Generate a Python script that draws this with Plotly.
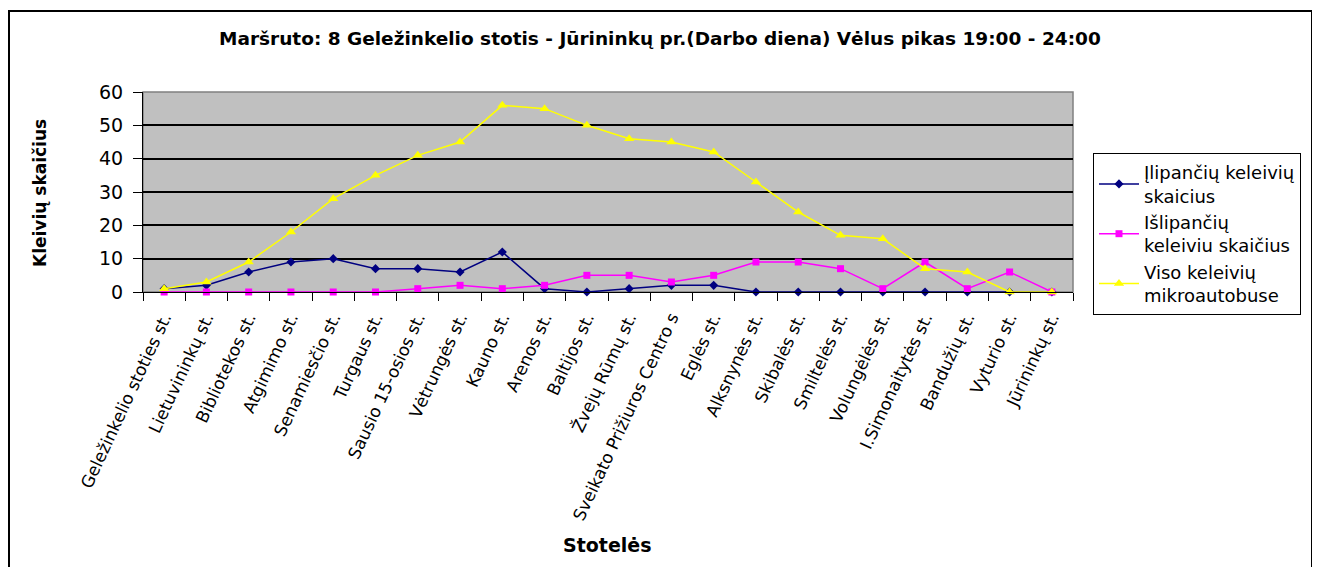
import plotly.graph_objects as go

# Stotelės (stops) along route 8
stops = [
    "Geležinkelio stoties st.", "Lietuvininkų st.", "Bibliotekos st.", "Atgimimo st.",
    "Senamiesčio st.", "Turgaus st.", "Sausio 15-osios st.", "Vėtrungės st.",
    "Kauno st.", "Arenos st.", "Baltijos st.", "Žvejų Rūmų st.",
    "Sveikato Prižiuros Centro s", "Eglės st.", "Alksnynės st.", "Skibalės st.",
    "Smiltelės st.", "Volungėlės st.", "I.Simonaitytės st.", "Bandužių st.",
    "Vyturio st.", "Jūrininkų st.",
]

boarding = [1, 2, 6, 9, 10, 7, 7, 6, 12, 1, 0, 1, 2, 2, 0, 0, 0, 0, 0, 0, 0, 0]
alighting = [0, 0, 0, 0, 0, 0, 1, 2, 1, 2, 5, 5, 3, 5, 9, 9, 7, 1, 9, 1, 6, 0]
on_board = [1, 3, 9, 18, 28, 35, 41, 45, 56, 55, 50, 46, 45, 42, 33, 24, 17, 16, 7, 6, 0, 0]

FONT = "DejaVu Sans, Arial, sans-serif"

# page has an 8px body margin, so figure coords = screen coords - 8
OFF = 8
W, H = 1320, 567
L, T = 143 - OFF, 92 - OFF
R, B = W - (1073 - OFF), H - (292 - OFF)
pw, ph = W - L - R, H - T - B


def px(x):
    # screen x -> paper
    return (x - OFF - L) / pw


def py(y):
    # screen y -> paper
    return (H - B - (y - OFF)) / ph


fig = go.Figure()

fig.add_trace(go.Scatter(
    x=stops, y=boarding, name="Įlipančių keleivių<br>skaicius",
    mode="lines+markers", legendgroup="a",
    line=dict(color="#000080", width=1.5),
    marker=dict(symbol="diamond", size=7, color="#000080"),
    cliponaxis=False,
))
fig.add_trace(go.Scatter(
    x=stops, y=alighting, name="Išlipančių<br>keleiviu skaičius",
    mode="lines+markers", legendgroup="b",
    line=dict(color="#FF00FF", width=1.5),
    marker=dict(symbol="square", size=7, color="#FF00FF"),
    cliponaxis=False,
))
fig.add_trace(go.Scatter(
    x=stops, y=on_board, name="Viso keleivių<br>mikroautobuse",
    mode="lines+markers", legendgroup="c",
    line=dict(color="#FFFF00", width=1.5),
    marker=dict(symbol="triangle-up", size=9, color="#FFFF00"),
    cliponaxis=False,
))

fig.update_layout(
    width=W, height=H,
    margin=dict(l=L, r=R, t=T, b=B),
    paper_bgcolor="white",
    plot_bgcolor="#C0C0C0",
    font=dict(family=FONT, color="black"),
    showlegend=True,
    legend=dict(
        x=px(1093), y=py(153), xanchor="left", yanchor="top",
        bordercolor="black", borderwidth=1, bgcolor="white",
        font=dict(size=18, family=FONT),
        traceorder="grouped", tracegroupgap=0,
        itemwidth=40,
    ),
    xaxis=dict(
        type="category", range=[-0.5, len(stops) - 0.5],
        tickangle=-65, tickfont=dict(size=17),
        ticks="outside", tickson="boundaries", ticklen=8, tickcolor="black",
        ticklabelstandoff=8,
        showline=True, linecolor="black", linewidth=1,
        showgrid=False,
    ),
    yaxis=dict(
        range=[0, 60], dtick=10, tickfont=dict(size=19),
        ticks="outside", ticklen=9, tickcolor="black",
        ticklabelstandoff=6,
        showline=True, linecolor="black", linewidth=1,
        showgrid=True, gridcolor="black", gridwidth=1.5,
        zeroline=False,
    ),
    annotations=[
        dict(text="<b>Maršruto: 8 Geležinkelio stotis - Jūrininkų pr.(Darbo diena) Vėlus pikas 19:00 - 24:00</b>",
             x=px(660), y=py(38), xref="paper", yref="paper", showarrow=False,
             xanchor="center", yanchor="middle", font=dict(size=18.5)),
        dict(text="<b>Kleivių skaičius</b>", textangle=-90,
             x=px(40), y=py(193), xref="paper", yref="paper", showarrow=False,
             xanchor="center", yanchor="middle", font=dict(size=17)),
        dict(text="<b>Stotelės</b>",
             x=px(607), y=py(545), xref="paper", yref="paper", showarrow=False,
             xanchor="center", yanchor="middle", font=dict(size=19)),
    ],
    shapes=[
        # outer chart frame
        dict(type="rect", xref="paper", yref="paper",
             x0=px(9), x1=px(1312), y0=py(585), y1=py(11),
             line=dict(color="black", width=2), layer="below"),
        # plot area border (top/right in grey)
        dict(type="rect", xref="paper", yref="paper", x0=0, x1=1, y0=0, y1=1,
             line=dict(color="#808080", width=1.5), layer="below"),
    ],
)

fig.write_html("out.html")
